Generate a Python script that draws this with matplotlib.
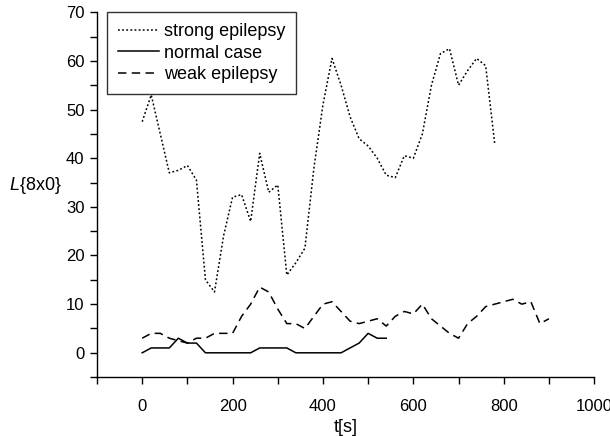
import numpy as np
import matplotlib
matplotlib.use('Agg')
import matplotlib.pyplot as plt
from matplotlib.ticker import MultipleLocator

plt.rcParams['font.family'] = ['Liberation Sans', 'DejaVu Sans']
plt.rcParams['mathtext.fontset'] = 'custom'
plt.rcParams['mathtext.it'] = 'Liberation Sans:italic'
plt.rcParams['mathtext.rm'] = 'Liberation Sans'

t_strong = np.arange(0, 781, 20)
strong = [47.5, 53, 45, 37, 37.5, 38.5, 35.5, 15, 12.5, 24,
          32, 32.5, 27, 41, 33, 34.5, 16, 18.5, 21.5, 38,
          51, 60.5, 55, 48.5, 44, 42.5, 40, 36.5, 36, 40.5,
          40, 45, 55, 61.5, 62.5, 55, 58, 60.5, 59, 43]

t_normal = np.arange(0, 541, 20)
normal = [0, 1, 1, 1, 3, 2, 2, 0, 0, 0,
          0, 0, 0, 1, 1, 1, 1, 0, 0, 0,
          0, 0, 0, 1, 2, 4, 3, 3]

t_weak = np.arange(0, 901, 20)
weak = [3, 4, 4, 3, 2.5, 2, 3, 3, 4, 4,
        4, 7.5, 10, 13.5, 12.5, 9, 6, 6, 5, 7.5,
        10, 10.5, 8.5, 6.5, 6, 6.5, 7, 5.5, 7.5, 8.5,
        8, 10, 7, 5.5, 4, 3, 6, 7.5, 9.5, 10,
        10.5, 11, 10, 10.5, 6, 7]

fig = plt.figure(figsize=(6.1, 4.36), dpi=100)
ax = fig.add_axes([0.159, 0.135, 0.815, 0.837])

ax.plot(t_strong, strong, color='black', lw=1.1, linestyle=(0, (1.2, 1.5)), label='strong epilepsy')
ax.plot(t_normal, normal, color='black', lw=1.1, linestyle='-', label='normal case')
ax.plot(t_weak, weak, color='black', lw=1.1, linestyle=(0, (5.5, 3.5)), label='weak epilepsy')

ax.set_xlim(-100, 1000)
ax.set_ylim(-5, 70)
ax.xaxis.set_major_locator(MultipleLocator(200))
ax.xaxis.set_minor_locator(MultipleLocator(100))
ax.yaxis.set_major_locator(MultipleLocator(10))
ax.yaxis.set_minor_locator(MultipleLocator(5))

ax.spines['top'].set_visible(False)
ax.spines['right'].set_visible(False)
for s in ('left', 'bottom'):
    ax.spines[s].set_linewidth(1.0)

ax.tick_params(axis='both', which='both', direction='out', length=5, width=1.0, labelsize=12)
ax.tick_params(axis='x', which='major', pad=11)
ax.tick_params(axis='y', which='major', pad=4)

ax.set_xlabel('t[s]', fontsize=13)
ax.xaxis.set_label_coords(0.5, -0.115)
ax.set_ylabel(r'$L$' + '{8x0}', fontsize=13, rotation=0, va='center')
ax.yaxis.set_label_coords(-0.125, 0.525)

leg = ax.legend(loc='upper left', bbox_to_anchor=(0.02, 1.0), borderaxespad=0,
                fontsize=13, frameon=True, fancybox=False, handlelength=2.3,
                handletextpad=0.25, labelspacing=0.25, borderpad=0.6)
leg.get_frame().set_edgecolor('black')
leg.get_frame().set_linewidth(1.0)

fig.savefig('out.png', dpi=100)
